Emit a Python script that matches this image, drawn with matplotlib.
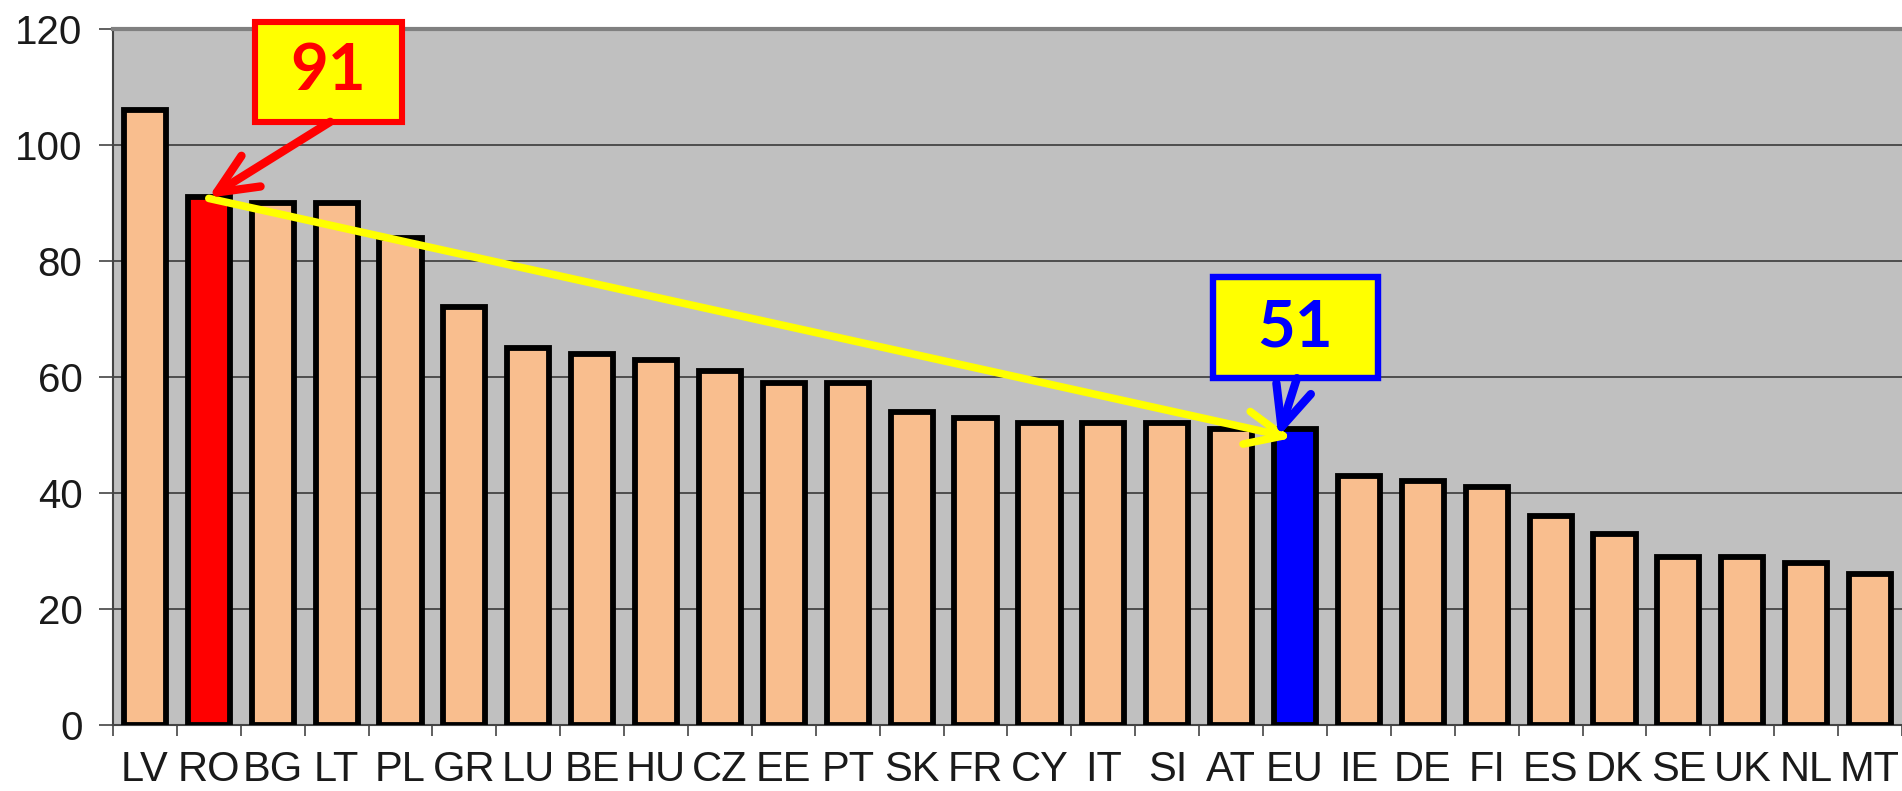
import matplotlib
matplotlib.use("Agg")
import matplotlib.pyplot as plt
from matplotlib.patches import Rectangle
import numpy as np

countries = ["LV", "RO", "BG", "LT", "PL", "GR", "LU", "BE", "HU", "CZ", "EE", "PT",
             "SK", "FR", "CY", "IT", "SI", "AT", "EU", "IE", "DE", "FI", "ES", "DK",
             "SE", "UK", "NL", "MT"]
values = [106, 91, 90, 90, 84, 72, 65, 64, 63, 61, 59, 59,
          54, 53, 52, 52, 52, 51, 51, 43, 42, 41, 36, 33,
          29, 29, 28, 26]
ro_label = "91"
eu_label = "51"
y_ticks = [0, 20, 40, 60, 80, 100, 120]

PEACH = "#F9BE8E"
colors = []
for c in countries:
    if c == "RO":
        colors.append("#FF0000")
    elif c == "EU":
        colors.append("#0000FF")
    else:
        colors.append(PEACH)

fig = plt.figure(figsize=(19.02, 7.91), dpi=100)
ax = fig.add_axes([0.0594, 0.0834, 0.9406, 0.8799])
ax.set_facecolor("#C0C0C0")

x = np.arange(len(countries))
ax.set_xlim(-0.5, len(countries) - 0.5)
ax.set_ylim(0, 120)

for yv in y_ticks[1:-1]:
    ax.axhline(yv, color="#3A3A3A", lw=1.2, zorder=1)

ax.bar(x, values, width=0.66, color=colors, edgecolor="black", linewidth=4.2, zorder=3)

# axes styling
ax.set_yticks(y_ticks)
ax.set_yticklabels([str(v) for v in y_ticks], fontsize=29, family="Liberation Sans", color="#1A1A1A")
ax.tick_params(axis="y", length=10, width=1.2, color="#444444", pad=12)
ax.set_xticks(x)
ax.set_xticklabels(countries, fontsize=30, family="Liberation Sans", color="#1A1A1A")
ax.set_xticks(np.arange(-0.5, len(countries), 1.0), minor=True)
ax.tick_params(axis="x", which="major", length=0, pad=18)
ax.tick_params(axis="x", which="minor", length=8, width=1.2, color="#444444")

ax.spines["top"].set_color("#808080")
ax.spines["top"].set_linewidth(3)
ax.spines["right"].set_visible(False)
ax.spines["left"].set_color("#444444")
ax.spines["left"].set_linewidth(1.5)
ax.spines["bottom"].set_color("#444444")
ax.spines["bottom"].set_linewidth(1.5)

ro_i = countries.index("RO")
eu_i = countries.index("EU")

# yellow arrow from RO to EU
ax.annotate("", xy=(eu_i - 0.04, values[eu_i] - 1.5), xytext=(ro_i, values[ro_i] - 0.2),
            arrowprops=dict(arrowstyle="->,head_length=1.35,head_width=0.6",
                            mutation_scale=20, color="#FFFF00", lw=5.5,
                            shrinkA=0, shrinkB=0), zorder=5)

# red box
ax.add_patch(Rectangle((1.72, 104.0), 2.30, 17.2, facecolor="#FFFF00", edgecolor="#FF0000",
                       lw=4.4, zorder=6, clip_on=False))
ax.text(1.72 + 2.30 / 2, 104.0 + 17.2 / 2, ro_label, ha="center", va="center",
        fontsize=47, fontweight="bold", family="Lato", color="#FF0000", zorder=7, clip_on=False)
ax.annotate("", xy=(ro_i - 0.01, values[ro_i] - 0.1), xytext=(2.90, 104.0),
            arrowprops=dict(arrowstyle="->,head_length=1.45,head_width=0.65",
                            mutation_scale=20, color="#FF0000", lw=6,
                            shrinkA=0, shrinkB=0), zorder=6)

# blue box
ax.add_patch(Rectangle((16.71, 59.8), 2.59, 17.4, facecolor="#FFFF00", edgecolor="#0000FF",
                       lw=4.6, zorder=6))
ax.text(16.71 + 2.59 / 2, 59.8 + 17.4 / 2, eu_label, ha="center", va="center",
        fontsize=47, fontweight="bold", family="Lato", color="#0000FF", zorder=7)
ax.annotate("", xy=(eu_i - 0.26, values[eu_i] - 1.3), xytext=(eu_i + 0.03, 59.8),
            arrowprops=dict(arrowstyle="->,head_length=1.45,head_width=0.65",
                            mutation_scale=20, color="#0000FF", lw=6,
                            shrinkA=0, shrinkB=0), zorder=6)

fig.savefig("out.png", dpi=100)
